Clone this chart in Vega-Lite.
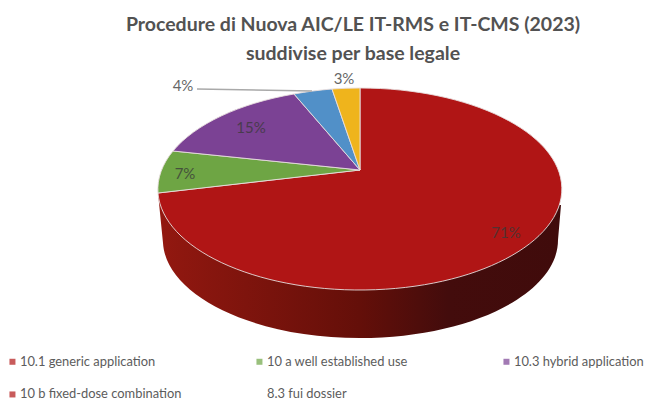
{
"$schema":"https://vega.github.io/schema/vega-lite/v6.json",
"width":646,"height":338,
"autosize":{"type":"none"},
"padding":{"left":0,"right":0,"top":65,"bottom":0},
"background":"white",
"title":{"text":["Procedure di Nuova AIC/LE IT-RMS e IT-CMS (2023)","suddivise per base legale"],"font":"Lato","fontWeight":"bold","fontSize":19.5,"lineHeight":29,"color":"#525252","anchor":"middle","frame":"group","dx":30,"offset":1},
"config":{"view":{"stroke":null},"font":"Lato"},
"data":{"values":[
{"base":"10.1 generic application","percentuale":71,"etichetta":"71%"},
{"base":"10 a well established use","percentuale":7,"etichetta":"7%"},
{"base":"10.3 hybrid application","percentuale":15,"etichetta":"15%"},
{"base":"10 b fixed-dose combination","percentuale":4,"etichetta":"4%"},
{"base":"8.3 fui dossier","percentuale":3,"etichetta":"3%"}
]},
"layer":[
{"mark":{"type":"square","size":36},
 "encoding":{
  "color":{"field":"base","type":"nominal","scale":{"domain":["10.1 generic application","10 a well established use","10.3 hybrid application","10 b fixed-dose combination","8.3 fui dossier"],"range":["#b01515","#6ea544","#7b4294","#b01515","#ffffff"]},
   "legend":{"title":null,"orient":"none","direction":"horizontal","legendX":6,"legendY":290,"columns":3,"gridAlign":"all","columnPadding":71,"rowPadding":19,"symbolType":"square","symbolSize":36,"labelFont":"Lato","labelFontSize":12.9,"labelColor":"#5c5c5c","labelLimit":300,"labelOffset":1}}
 }},
{"transform":[{"filter":"datum.percentuale === 71"}],
 "mark":{"type":"point","filled":true,"size":4,"opacity":1,"stroke":null,"shape":"M-165,-41 L-160,9 A197,98 0 0 0 37,104 A198,98 0 0 0 235,6 L238,-29 Z",
  "fill":{"gradient":"linear","x1":0,"x2":1,"y1":0,"y2":0,"stops":[{"offset":0,"color":"#931810"},{"offset":0.5,"color":"#640f09"},{"offset":0.72,"color":"#430c0c"},{"offset":1,"color":"#400b0b"}]}},
 "encoding":{}},
{"mark":{"type":"point","filled":true,"size":4,"opacity":1,"stroke":"#e8dede","strokeWidth":0.9},
 "encoding":{
  "fill":{"field":"base","type":"nominal","legend":null,"scale":{"domain":["8.3 fui dossier","10 b fixed-dose combination","10.3 hybrid application","10 a well established use","10.1 generic application"],"range":["#efb41c","#5190c8","#7b4294","#6ea544","#b01515"]}},
  "shape":{"field":"base","type":"nominal","legend":null,"scale":{"domain":["8.3 fui dossier","10 b fixed-dose combination","10.3 hybrid application","10 a well established use","10.1 generic application"],"range":[
   "M37,-64 L9,-145 A202,101 0 0 1 37,-146 Z",
   "M37,-64 L-29,-140 A202,101 0 0 1 9,-145 Z",
   "M37,-64 L-150,-83 A202,101 0 0 1 -29,-140 Z",
   "M37,-64 L-165,-41 A202,101 0 0 1 -150,-83 Z",
   "M37,-64 L37,-146 A202,101 0 1 1 -165,-41 Z"]}}
 }},
{"transform":[{"filter":"datum.percentuale === 4"}],
 "mark":{"type":"point","filled":false,"size":4,"opacity":1,"stroke":"#a9a9a9","strokeWidth":1.5,"shape":"M-126,-145 L-11,-143"},
 "encoding":{}},
{"mark":{"type":"text","font":"Lato","fontSize":15,"align":"center","baseline":"middle","color":"#3a3a3a","opacity":0.78},
 "encoding":{
  "x":{"field":"percentuale","type":"quantitative","axis":null,"scale":{"zero":false,"nice":false,"domain":[3,4,7,15,71],"range":[344,183,185,251,506]}},
  "y":{"field":"percentuale","type":"quantitative","axis":null,"scale":{"zero":false,"nice":false,"domain":[3,4,7,15,71],"range":[14,21,109,63,168]}},
  "text":{"field":"etichetta","type":"nominal"}
 }}
]}
